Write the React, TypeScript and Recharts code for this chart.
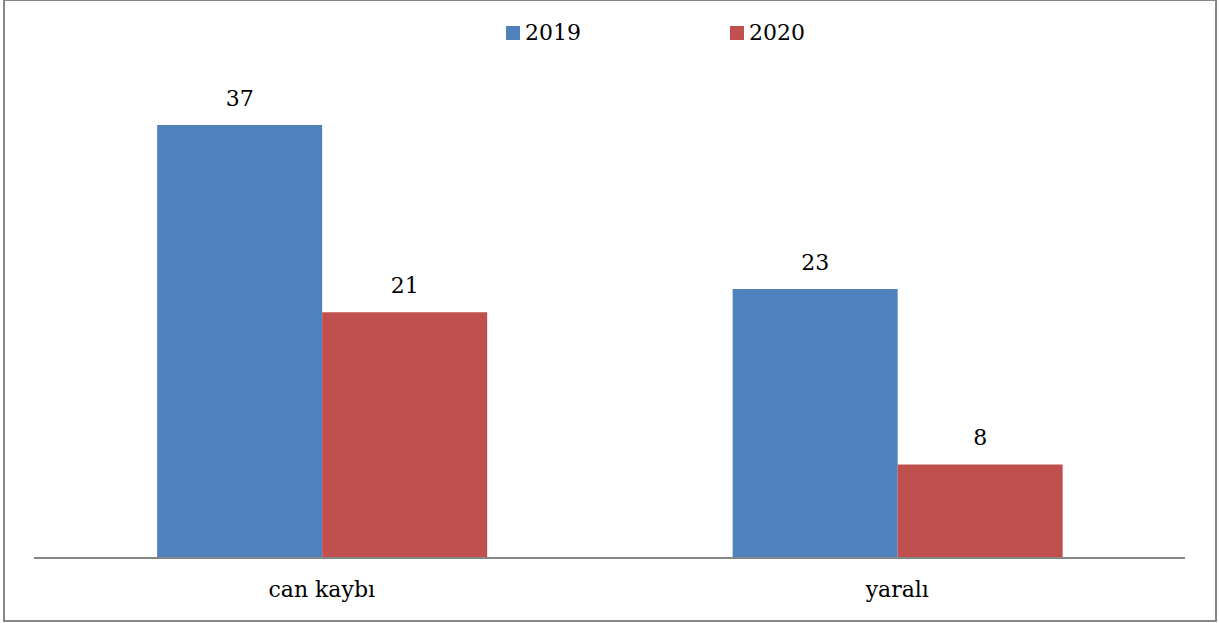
import { BarChart, Bar, XAxis, YAxis, LabelList } from "recharts";

const categories = ["can kaybı", "yaralı"];
const values2019 = [37, 23];
const values2020 = [21, 8];

const data = categories.map((name, i) => ({
  name,
  y2019: values2019[i],
  y2020: values2020[i],
}));

const FONT = "DejaVu Serif";

function LegendBox() {
  const items = [
    { label: "2019", color: "#4F81BD" },
    { label: "2020", color: "#C0504D" },
  ];
  return (
    <div
      style={{
        position: "absolute",
        left: 506,
        top: 18,
        display: "flex",
        fontFamily: FONT,
        fontSize: 22,
        lineHeight: "30px",
        color: "#000",
      }}
    >
      {items.map((it) => (
        <div key={it.label} style={{ display: "flex", alignItems: "center", width: 224 }}>
          <span style={{ display: "inline-block", width: 14, height: 14, background: it.color, marginRight: 5 }} />
          <span>{it.label}</span>
        </div>
      ))}
    </div>
  );
}

export default function App() {
  return (
    <div style={{ position: "absolute", left: 0, top: 0, width: 1219, height: 623, background: "#fff" }}>
      <div
        style={{
          position: "absolute",
          left: 3,
          top: -1,
          width: 1214,
          height: 623,
          boxSizing: "border-box",
          border: "2px solid #878787",
        }}
      />
      <BarChart
        width={1219}
        height={623}
        data={data}
        margin={{ top: 90, right: 34, left: 34, bottom: 35 }}
        barCategoryGap="21.4%"
        barGap={0}
      >
        <XAxis
          dataKey="name"
          axisLine={{ stroke: "#868686", strokeWidth: 2 }}
          tickLine={false}
          tickMargin={17}
          tick={{ fontSize: 22, fill: "#000", fontFamily: FONT }}
        />
        <YAxis hide domain={[0, 40]} />
        <Bar dataKey="y2019" fill="#4F81BD" isAnimationActive={false}>
          <LabelList dataKey="y2019" position="top" offset={19} fontFamily={FONT} fontSize={22} fill="#000" />
        </Bar>
        <Bar dataKey="y2020" fill="#C0504D" isAnimationActive={false}>
          <LabelList dataKey="y2020" position="top" offset={19} fontFamily={FONT} fontSize={22} fill="#000" />
        </Bar>
      </BarChart>
      <LegendBox />
    </div>
  );
}
